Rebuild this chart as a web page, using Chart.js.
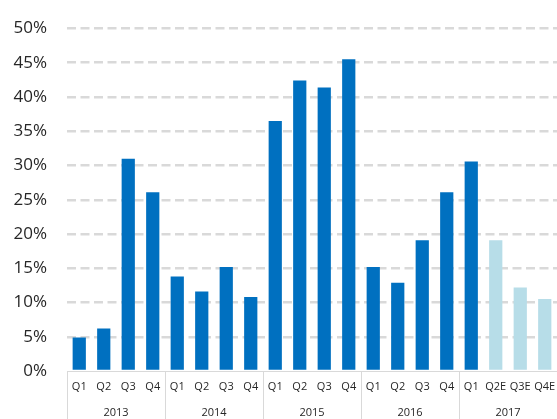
<!DOCTYPE html>
<html>
<head>
<meta charset="utf-8">
<script src="https://cdn.jsdelivr.net/npm/chart.js@4"></script>
<style>
  html, body { margin: 0; padding: 0; background: #fff; }
  #wrap { width: 557px; height: 419px; }
</style>
</head>
<body>
<div id="wrap"><canvas id="myChart"></canvas></div>
<script>
let quarters = ["Q1","Q2","Q3","Q4","Q1","Q2","Q3","Q4","Q1","Q2","Q3","Q4","Q1","Q2","Q3","Q4","Q1","Q2E","Q3E","Q4E"];
let years = ["2013","2014","2015","2016","2017"];
let growth = [4.9, 6.2, 31.0, 26.1, 13.8, 11.6, 15.2, 10.8, 36.5, 42.4, 41.4, 45.5, 15.2, 12.9, 19.1, 26.1, 30.6, 19.1, 12.2, 10.5];
let estimate = [false,false,false,false,false,false,false,false,false,false,false,false,false,false,false,false,false,true,true,true];

let barColors = estimate.map(function(e) {
  return e ? "#b7dde8" : "#0070c0";
});

// year separator lines under the axis, placed with the year scale
var yearLines = {
  id: 'yearLines',
  afterDraw: function(chart) {
    var x2 = chart.scales.x2;
    var area = chart.chartArea;
    var c = chart.ctx;
    var xs = [area.left, area.right];
    for (var j = 1; j < years.length; j++) {
      xs.push((x2.getPixelForTick(j - 1) + x2.getPixelForTick(j)) / 2);
    }
    c.save();
    c.strokeStyle = '#d9d9d9';
    c.lineWidth = 1;
    xs.forEach(function(px) {
      c.beginPath();
      c.moveTo(Math.round(px) + 0.5, area.bottom);
      c.lineTo(Math.round(px) + 0.5, chart.height);
      c.stroke();
    });
    c.restore();
  }
};

// fixed axis height, no extra side padding for the labels
function fixAxis(h) {
  return function(axis) {
    axis.height = h;
    axis.paddingLeft = 0;
    axis.paddingRight = 0;
  };
}

var ctx = document.getElementById('myChart').getContext('2d');
var chart = new Chart(ctx, {
  type: 'bar',
  data: {
    labels: quarters,
    datasets: [{
      data: growth,
      backgroundColor: barColors,
      barPercentage: 0.54,
      categoryPercentage: 1.0,
      xAxisID: 'x'
    }]
  },
  plugins: [yearLines],
  options: {
    responsive: true,
    maintainAspectRatio: false,
    animation: false,
    layout: { padding: { top: 15, right: 0, left: 0, bottom: 0 } },
    plugins: {
      legend: { display: false },
      tooltip: { enabled: false }
    },
    scales: {
      y: {
        min: 0,
        max: 50,
        afterFit: function(axis) { axis.width = 67; },
        ticks: {
          stepSize: 5,
          padding: 20,
          color: '#262626',
          font: { family: 'Open Sans', size: 17, lineHeight: 1 },
          callback: function(v) { return v + '%'; }
        },
        grid: {
          drawTicks: false,
          lineWidth: 2.5,
          color: function(c) { return c.tick && c.tick.value === 0 ? 'transparent' : '#d9d9d9'; }
        },
        border: { display: false, dash: [9, 4.5] }
      },
      x: {
        position: 'bottom',
        afterFit: fixAxis(24),
        grid: { display: false, drawTicks: false },
        border: { display: true, color: '#d9d9d9', width: 1 },
        ticks: {
          padding: 10,
          autoSkip: false,
          maxRotation: 0,
          color: '#262626',
          font: { family: 'Open Sans', size: 11, lineHeight: 1 }
        }
      },
      x2: {
        type: 'category',
        position: 'bottom',
        labels: years,
        offset: true,
        afterFit: fixAxis(24),
        grid: { display: false, drawTicks: false },
        border: { display: false },
        ticks: {
          padding: 12,
          maxRotation: 0,
          color: '#262626',
          font: { family: 'Open Sans', size: 11, lineHeight: 1 }
        }
      }
    }
  }
});
</script>
</body>
</html>
